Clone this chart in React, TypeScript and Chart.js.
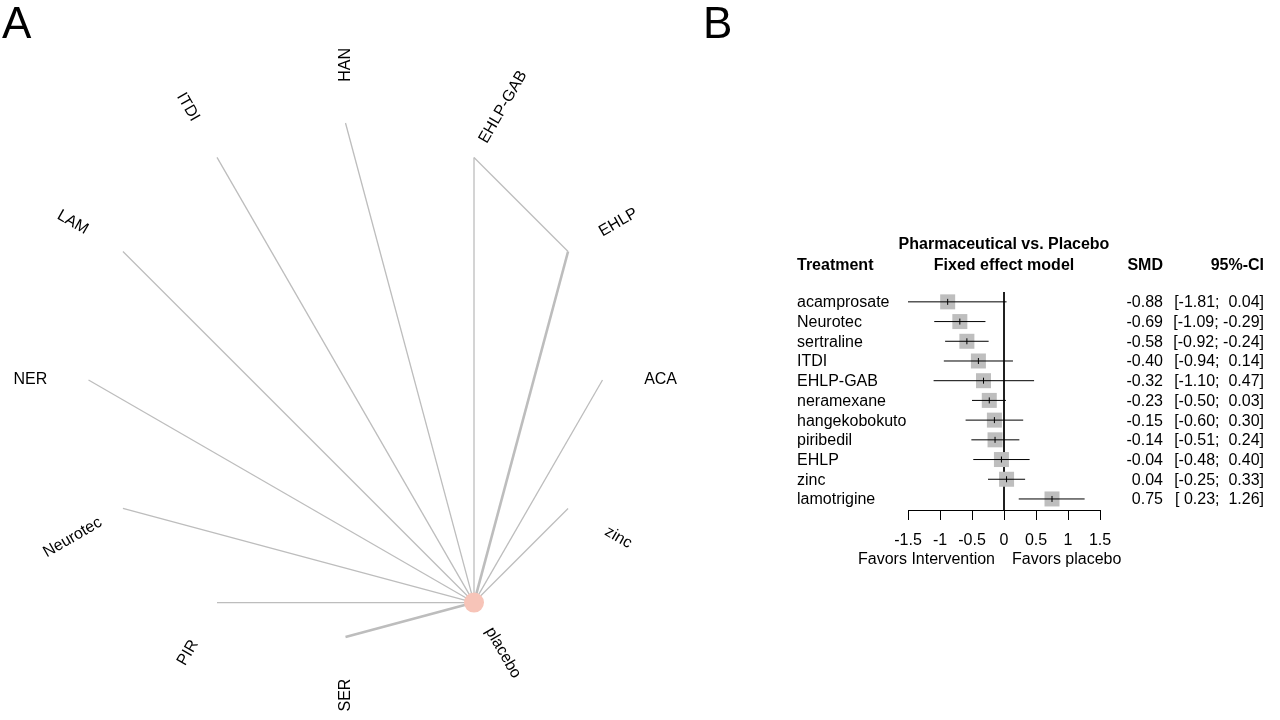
import React, { useEffect, useRef } from "react";
import { Chart, registerables } from "chart.js";

Chart.register(...registerables);

// ---------- Panel A: network data ----------
const nodeNames = ["placebo", "zinc", "ACA", "EHLP", "EHLP-GAB", "HAN", "ITDI", "LAM", "NER", "Neurotec", "PIR", "SER"];
const nodePointSize = [10, 0, 0, 0, 0, 0, 0, 0, 0, 0, 0, 0];
const edgeFrom = ["placebo", "placebo", "placebo", "EHLP-GAB", "placebo", "placebo", "placebo", "placebo", "placebo", "placebo", "placebo", "placebo"];
const edgeTo = ["zinc", "ACA", "EHLP", "EHLP", "EHLP-GAB", "HAN", "ITDI", "LAM", "NER", "Neurotec", "PIR", "SER"];
const edgeStudies = [1, 1, 2, 1, 1, 1, 1, 1, 1, 1, 1, 2];

// ---------- Panel B: forest data ----------
const treatments = ["acamprosate", "Neurotec", "sertraline", "ITDI", "EHLP-GAB", "neramexane", "hangekobokuto", "piribedil", "EHLP", "zinc", "lamotrigine"];
const smd = [-0.88, -0.69, -0.58, -0.4, -0.32, -0.23, -0.15, -0.14, -0.04, 0.04, 0.75];
const ciLower = [-1.81, -1.09, -0.92, -0.94, -1.1, -0.5, -0.6, -0.51, -0.48, -0.25, 0.23];
const ciUpper = [0.04, -0.29, -0.24, 0.14, 0.47, 0.03, 0.3, 0.24, 0.4, 0.33, 1.26];
const xTicks = [-1.5, -1, -0.5, 0, 0.5, 1, 1.5];
const refValue = 0;

const FONT = '"Liberation Sans", Arial, Helvetica, sans-serif';
const EDGE_COLOR = "#BDBDBD";
const NODE_COLOR = "#F7C4B8";
const SQUARE_COLOR = "#BEBEBE";

// circular layout (unit circle), starting at -60 degrees going counter-clockwise
const startAngleDeg = -60;
const nodeAngle = (i: number) => ((startAngleDeg + (360 / nodeNames.length) * i) * Math.PI) / 180;
const nodePos = (name: string) => {
  const i = nodeNames.indexOf(name);
  const a = nodeAngle(i);
  return { x: Math.cos(a), y: Math.sin(a) };
};
const labelRadius = 1.226;

const fmt2 = (v: number) => v.toFixed(2);
const padNum = (v: number) => (v >= 0 ? " " : "") + v.toFixed(2);

function NetworkChart() {
  const ref = useRef<HTMLCanvasElement | null>(null);
  useEffect(() => {
    if (!ref.current) return;
    const edgeDatasets = edgeFrom.map((f, k) => ({
      type: "scatter" as const,
      data: [nodePos(f), nodePos(edgeTo[k])],
      showLine: true,
      borderColor: EDGE_COLOR,
      borderWidth: 1.3 * edgeStudies[k],
      pointRadius: 0,
      order: 2,
    }));
    const nodeDataset = {
      type: "scatter" as const,
      data: nodeNames.map((n) => nodePos(n)),
      pointRadius: nodePointSize,
      pointBackgroundColor: NODE_COLOR,
      pointBorderWidth: 0,
      showLine: false,
      order: 1,
    };
    const labelPlugin = {
      id: "netLabels",
      afterDraw(chart: any) {
        const { ctx, scales } = chart;
        ctx.save();
        ctx.fillStyle = "#000";
        ctx.font = `16px ${FONT}`;
        ctx.textAlign = "center";
        ctx.textBaseline = "middle";
        nodeNames.forEach((name, i) => {
          const a = nodeAngle(i);
          const px = scales.x.getPixelForValue(Math.cos(a) * labelRadius);
          const py = scales.y.getPixelForValue(Math.sin(a) * labelRadius);
          const deg = (-a * 180) / Math.PI;
          const rot = ((((deg % 180) + 180 + 90) % 180) - 90) * Math.PI / 180;
          ctx.save();
          ctx.translate(px, py);
          ctx.rotate(rot);
          ctx.fillText(name, 0, 0);
          ctx.restore();
        });
        ctx.font = `44px ${FONT}`;
        ctx.textAlign = "left";
        ctx.textBaseline = "alphabetic";
        ctx.fillText("A", 2, 38);
        ctx.restore();
      },
    };
    const chart = new Chart(ref.current, {
      type: "scatter",
      data: { datasets: [...edgeDatasets, nodeDataset] as any },
      options: {
        animation: false,
        responsive: false,
        layout: { padding: 0, autoPadding: false },
        plugins: { legend: { display: false }, tooltip: { enabled: false } },
        scales: {
          x: { type: "linear", display: false, min: -1.3444, max: 1.3794 },
          y: { type: "linear", display: false, min: -1.323, max: 1.4786 },
        },
      },
      plugins: [labelPlugin],
    });
    return () => chart.destroy();
  }, []);
  return <canvas ref={ref} width={700} height={720} style={{ position: "absolute", left: 0, top: 0 }} />;
}

function ForestChart() {
  const ref = useRef<HTMLCanvasElement | null>(null);
  useEffect(() => {
    if (!ref.current) return;
    const yMin = -0.5;
    const yMax = 10.56;
    const ciData: any[] = [];
    treatments.forEach((_, i) => {
      ciData.push({ x: ciLower[i], y: i }, { x: ciUpper[i], y: i }, { x: null, y: null });
    });
    const textPlugin = {
      id: "forestText",
      afterDraw(chart: any) {
        const { ctx, scales } = chart;
        const ys = scales.y;
        const x0 = scales.x.getPixelForValue(refValue);
        ctx.save();
        ctx.fillStyle = "#000";
        ctx.textBaseline = "middle";
        ctx.font = `bold 16px ${FONT}`;
        ctx.textAlign = "center";
        ctx.fillText("Pharmaceutical vs. Placebo", 304, 245);
        ctx.fillText("Fixed effect model", 304, 266);
        ctx.textAlign = "left";
        ctx.fillText("Treatment", 97, 266);
        ctx.textAlign = "right";
        ctx.fillText("SMD", 463, 266);
        ctx.fillText("95%-CI", 564, 266);
        ctx.font = `16px ${FONT}`;
        treatments.forEach((t, i) => {
          const y = ys.getPixelForValue(i) + 1;
          ctx.textAlign = "left";
          ctx.fillText(t, 97, y);
          ctx.textAlign = "right";
          ctx.fillText(fmt2(smd[i]), 463, y);
          ctx.fillText(`[${padNum(ciLower[i])}; ${padNum(ciUpper[i])}]`, 564, y);
        });
        ctx.textAlign = "right";
        ctx.fillText("Favors Intervention", x0 - 9, 560);
        ctx.textAlign = "left";
        ctx.fillText("Favors placebo", x0 + 8, 560);
        ctx.font = `44px ${FONT}`;
        ctx.textBaseline = "alphabetic";
        ctx.fillText("B", 3, 38);
        ctx.restore();
      },
    };
    const chart = new Chart(ref.current, {
      type: "scatter",
      data: {
        datasets: [
          {
            data: smd.map((v, i) => ({ x: v, y: i })),
            pointStyle: "line",
            rotation: 90,
            pointRadius: 3,
            pointBorderColor: "#000",
            pointBorderWidth: 1,
            showLine: false,
            order: 1,
          },
          {
            data: ciData,
            showLine: true,
            spanGaps: false,
            borderColor: "#000",
            borderWidth: 1,
            pointRadius: 0,
            order: 2,
          },
          {
            data: smd.map((v, i) => ({ x: v, y: i })),
            pointStyle: "rect",
            pointRadius: 15 / (2 * Math.SQRT1_2),
            pointBackgroundColor: SQUARE_COLOR,
            pointBorderWidth: 0,
            showLine: false,
            order: 3,
          },
          {
            data: [
              { x: refValue, y: yMin },
              { x: refValue, y: yMax },
            ],
            showLine: true,
            borderColor: "#000",
            borderWidth: 1,
            pointRadius: 0,
            order: 4,
          },
        ] as any,
      },
      options: {
        animation: false,
        responsive: false,
        layout: { padding: { left: 208, right: 180, top: 292, bottom: 170 }, autoPadding: false },
        plugins: { legend: { display: false }, tooltip: { enabled: false } },
        scales: {
          x: {
            type: "linear",
            min: xTicks[0],
            max: xTicks[xTicks.length - 1],
            afterBuildTicks: (axis: any) => {
              axis.ticks = xTicks.map((v) => ({ value: v }));
            },
            afterFit: (axis: any) => {
              axis.height = 40;
            },
            grid: { drawOnChartArea: false, drawTicks: true, tickLength: 10, color: "#000", lineWidth: 1 },
            border: { display: true, color: "#000", width: 1 },
            ticks: {
              padding: 11,
              color: "#000",
              font: { family: FONT, size: 16 },
              maxRotation: 0,
              autoSkip: false,
              callback: (v: any) => String(v),
            },
          },
          y: { type: "linear", display: false, reverse: true, min: yMin, max: yMax },
        },
      },
      plugins: [textPlugin],
    });
    return () => chart.destroy();
  }, []);
  return <canvas ref={ref} width={580} height={720} style={{ position: "absolute", left: 700, top: 0 }} />;
}

export default function App() {
  return (
    <div style={{ position: "absolute", left: 0, top: 0, width: 1280, height: 720, background: "#fff", overflow: "hidden" }}>
      <NetworkChart />
      <ForestChart />
    </div>
  );
}
